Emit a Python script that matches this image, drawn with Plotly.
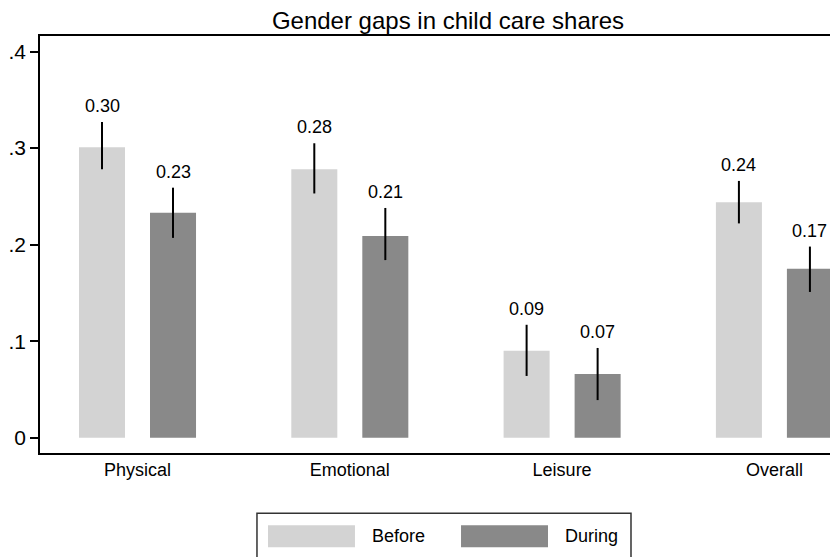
import plotly.graph_objects as go

categories = ["Physical", "Emotional", "Leisure", "Overall"]
before = [0.301, 0.278, 0.090, 0.244]
before_hi = [0.327, 0.305, 0.117, 0.266]
before_lo = [0.278, 0.253, 0.064, 0.222]
during = [0.233, 0.209, 0.066, 0.175]
during_hi = [0.259, 0.238, 0.093, 0.198]
during_lo = [0.207, 0.184, 0.039, 0.151]
ytick_vals = [0, 0.1, 0.2, 0.3, 0.4]
ytick_text = ["0", ".1", ".2", ".3", ".4"]

C_BEFORE = "#d3d3d3"
C_DURING = "#898989"
FONT = "Liberation Sans"

fig = go.Figure()
for name, vals, hi, lo, col in [("Before", before, before_hi, before_lo, C_BEFORE),
                                ("During", during, during_hi, during_lo, C_DURING)]:
    fig.add_trace(go.Bar(
        x=categories, y=vals, name=name, marker=dict(color=col, line=dict(width=0)),
        error_y=dict(type="data", symmetric=False,
                     array=[h - v for h, v in zip(hi, vals)],
                     arrayminus=[v - l for l, v in zip(lo, vals)],
                     color="black", thickness=2, width=0),
        showlegend=False,
    ))

# value labels above the CI
for k, (vals, hi, off) in enumerate([(before, before_hi, -0.1672), (during, during_hi, 0.1672)]):
    for i, (v, h) in enumerate(zip(vals, hi)):
        fig.add_annotation(x=i + off, y=h, xref="x", yref="y", text=f"{v:.2f}",
                           showarrow=False, yanchor="bottom", yshift=4,
                           font=dict(family=FONT, size=18, color="black"))

# legend drawn as box + swatches
fig.add_shape(type="rect", xref="paper", yref="paper", x0=0.2719, x1=0.7406, y0=-0.1447, y1=-0.32,
              line=dict(color="#333333", width=1.5), fillcolor="white")
for (x0, x1, col, tx, label) in [(0.2857, 0.3947, C_BEFORE, 0.4135, "Before"),
                                 (0.5276, 0.6366, C_DURING, 0.6554, "During")]:
    fig.add_shape(type="rect", xref="paper", yref="paper", x0=x0, x1=x1, y0=-0.2263, y1=-0.1735,
                  line=dict(width=0), fillcolor=col)
    fig.add_annotation(x=tx, y=-0.2, xref="paper", yref="paper", text=label, showarrow=False,
                       xanchor="left", yanchor="middle", font=dict(family=FONT, size=18, color="black"))

# page body has an 8px default margin; figure is sized/offset to compensate
fig.update_layout(
    width=830, height=549,
    margin=dict(l=32, r=0, t=28, b=104),
    paper_bgcolor="white", plot_bgcolor="white",
    barmode="group", bargap=0.331, bargroupgap=0.352,
    font=dict(family=FONT, color="black"),
    title=dict(text="Gender gaps in child care shares", x=440 / 830, xref="container", xanchor="center",
               y=1 - 13 / 549, yref="container", yanchor="middle",
               font=dict(family=FONT, size=24, color="black")),
    xaxis=dict(type="category", range=[-0.4593, 3.2995], showline=True, mirror=True,
               linecolor="black", linewidth=1.5, ticks="", showgrid=False, zeroline=False,
               ticklabelstandoff=0,
               tickfont=dict(family=FONT, size=18, color="black")),
    yaxis=dict(range=[-0.0158, 0.4161], tickvals=ytick_vals, ticktext=ytick_text,
               showline=True, linecolor="black", linewidth=1.5, ticks="outside", ticklen=8,
               tickwidth=1.5, tickcolor="black", showgrid=False, zeroline=False,
               tickfont=dict(family=FONT, size=21, color="black")),
)

fig.write_html("out.html")
